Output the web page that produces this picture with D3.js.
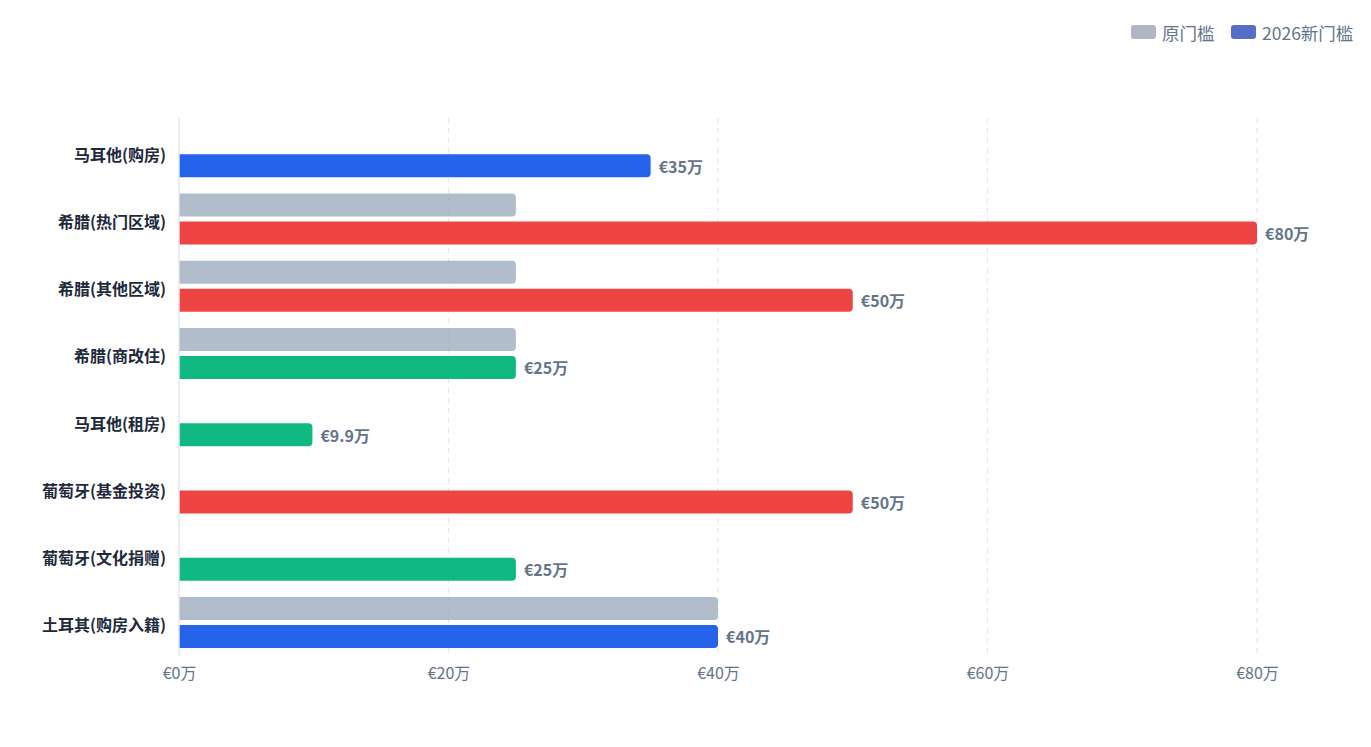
<!DOCTYPE html>
<html>
<head>
<meta charset="utf-8">
<script src="https://cdn.jsdelivr.net/npm/d3@7/dist/d3.min.js"></script>
<style>
  html, body { margin: 0; padding: 0; background: #fff; }
  svg { display: block; font-family: "Noto Sans CJK SC", "Noto Sans", sans-serif; }
</style>
</head>
<body>
<svg class="chart" width="1371" height="747"></svg>
<script>
const width = 1371;
const height = 747;

// 数据
const categories = ['马耳他(购房)', '希腊(热门区域)', '希腊(其他区域)', '希腊(商改住)',
  '马耳他(租房)', '葡萄牙(基金投资)', '葡萄牙(文化捐赠)', '土耳其(购房入籍)'];
const oldValues = [null, 25, 25, 25, null, null, null, 40];   // 原门槛
const newValues = [35, 80, 50, 25, 9.9, 50, 25, 40];         // 2026新门槛
const barColors = ['#2563eb', '#ef4444', '#ef4444', '#10b981', '#10b981', '#ef4444', '#10b981', '#2563eb'];
const xTicks = [0, 20, 40, 60, 80];
const legendNames = ['原门槛', '2026新门槛'];
const legendColors = ['#b1b8c3', '#5470c6'];

const margin = { top: 118, right: 114, bottom: 91, left: 179 };

const svg = d3.select('.chart');

const xScale = d3.scaleLinear()
  .domain([0, 80])
  .range([margin.left, width - margin.right]);

const yScale = d3.scaleBand()
  .domain(categories)
  .range([margin.top, height - margin.bottom]);

const barH = 23;
const gap = 2.5;

// 竖直虚线网格
svg.append('g')
  .selectAll('line')
  .data(xTicks.filter(d => d > 0))
  .enter()
  .append('line')
  .attr('x1', d => xScale(d))
  .attr('x2', d => xScale(d))
  .attr('y1', margin.top)
  .attr('y2', height - margin.bottom)
  .attr('stroke', '#e2e8f0')
  .attr('stroke-width', 1.2)
  .attr('stroke-dasharray', '5,5');

// 右侧圆角矩形路径
function barPath(x0, x1, y, h, r) {
  const w = x1 - x0;
  r = Math.min(r, w / 2, h / 2);
  return `M${x0},${y}H${x1 - r}Q${x1},${y} ${x1},${y + r}V${y + h - r}Q${x1},${y + h} ${x1 - r},${y + h}H${x0}Z`;
}

const rows = categories.map((c, i) => ({ cat: c, oldV: oldValues[i], newV: newValues[i], color: barColors[i] }));

// 原门槛 (灰色)
svg.append('g')
  .selectAll('path')
  .data(rows.filter(d => d.oldV != null))
  .enter()
  .append('path')
  .attr('d', d => {
    const cy = yScale(d.cat) + yScale.bandwidth() / 2;
    return barPath(xScale(0), xScale(d.oldV), cy - gap - barH, barH, 4);
  })
  .attr('fill', '#94a3b8')
  .attr('fill-opacity', 0.72);

// 新门槛
svg.append('g')
  .selectAll('path')
  .data(rows)
  .enter()
  .append('path')
  .attr('d', d => {
    const cy = yScale(d.cat) + yScale.bandwidth() / 2;
    return barPath(xScale(0), xScale(d.newV), cy + gap, barH, 4);
  })
  .attr('fill', d => d.color);

// 数值标签
svg.append('g')
  .selectAll('text')
  .data(rows)
  .enter()
  .append('text')
  .attr('x', d => xScale(d.newV) + 8)
  .attr('y', d => yScale(d.cat) + yScale.bandwidth() / 2 + gap + barH / 2)
  .attr('dominant-baseline', 'central')
  .attr('fill', '#64748b')
  .style('font-size', '16px')
  .style('font-weight', 'bold')
  .text(d => `€${d.newV}万`);

// y轴线
svg.append('line')
  .attr('x1', xScale(0)).attr('x2', xScale(0))
  .attr('y1', margin.top).attr('y2', height - margin.bottom)
  .attr('stroke', '#e2e8f0')
  .attr('stroke-width', 1.5);

// y轴标签
svg.append('g')
  .selectAll('text')
  .data(categories)
  .enter()
  .append('text')
  .attr('x', xScale(0) - 13)
  .attr('y', d => yScale(d) + yScale.bandwidth() / 2 + 2)
  .attr('text-anchor', 'end')
  .attr('dominant-baseline', 'central')
  .attr('fill', '#1e293b')
  .style('font-size', '16px')
  .style('font-weight', 'bold')
  .text(d => d);

// x轴刻度
const xAxis = d3.axisBottom(xScale)
  .tickValues(xTicks)
  .tickSize(0)
  .tickPadding(12)
  .tickFormat(d => `€${d}万`);

const xg = svg.append('g')
  .attr('transform', `translate(0, ${height - margin.bottom})`)
  .call(xAxis);
xg.select('.domain').remove();
xg.selectAll('text')
  .attr('fill', '#64748b')
  .style('font-size', '16px')
  .style('font-family', '"Noto Sans CJK SC", sans-serif');

// 图例
const legend = svg.append('g').attr('class', 'legend');
const legendX = [1131, 1231];
legendNames.forEach((name, i) => {
  const g = legend.append('g').attr('transform', `translate(${legendX[i]}, 32)`);
  g.append('rect')
    .attr('x', 0).attr('y', -7)
    .attr('width', 25).attr('height', 14)
    .attr('rx', 3)
    .attr('fill', legendColors[i]);
  g.append('text')
    .attr('x', 31)
    .attr('y', 0)
    .attr('dominant-baseline', 'central')
    .attr('fill', '#64748b')
    .style('font-size', '17.5px')
    .text(name);
});
</script>
</body>
</html>
